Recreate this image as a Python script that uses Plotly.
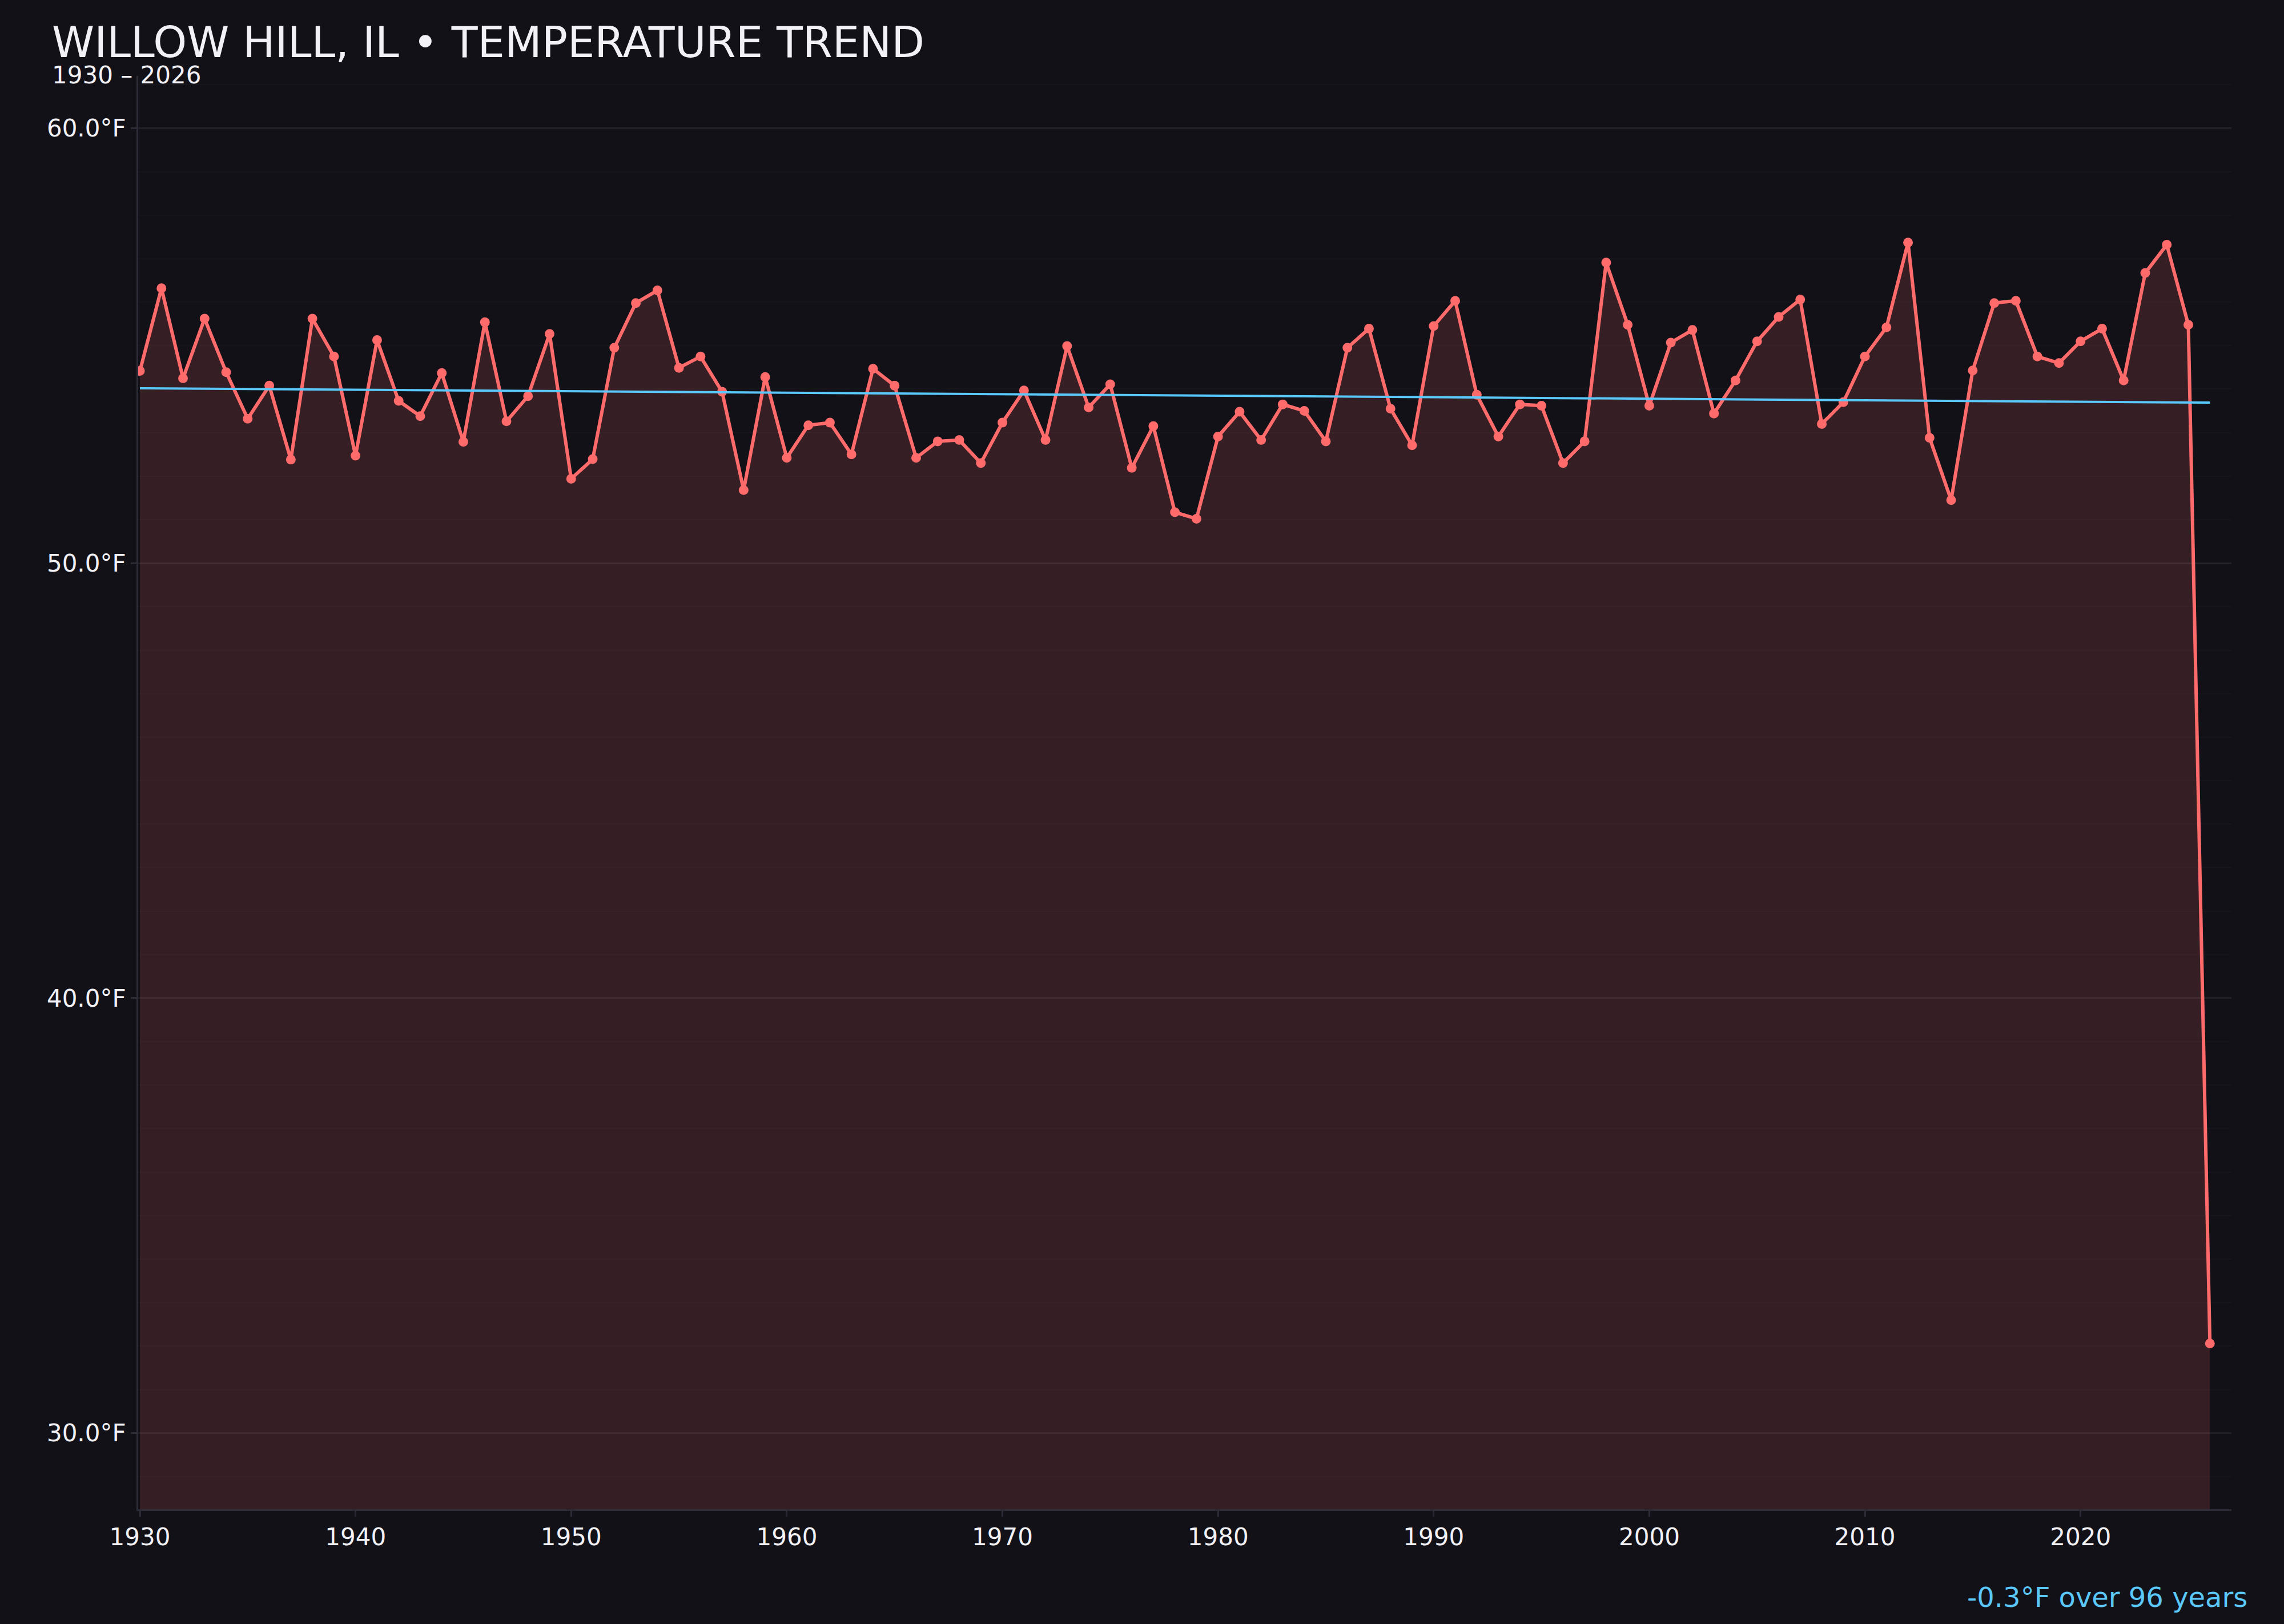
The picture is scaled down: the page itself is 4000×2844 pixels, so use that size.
import plotly.graph_objects as go

years = list(range(1930, 2027))
temps = [
    54.42, 56.32, 54.25, 55.62, 54.39, 53.32, 54.08, 52.38, 55.62, 54.75,  # 1930s
    52.47, 55.13, 53.73, 53.38, 54.37, 52.79, 55.54, 53.26, 53.84, 55.27,  # 1940s
    51.94, 52.39, 54.95, 55.98, 56.27, 54.49, 54.75, 53.94, 51.68, 54.28,  # 1950s
    52.42, 53.17, 53.23, 52.50, 54.47, 54.08, 52.42, 52.80, 52.83, 52.30,  # 1960s
    53.23, 53.97, 52.83, 54.99, 53.58, 54.11, 52.19, 53.15, 51.17, 51.02,  # 1970s
    52.91, 53.48, 52.83, 53.65, 53.50, 52.80, 54.95, 55.39, 53.55, 52.71,  # 1980s
    55.45, 56.03, 53.87, 52.91, 53.65, 53.62, 52.30, 52.80, 56.91, 55.48,  # 1990s
    53.62, 55.07, 55.36, 53.44, 54.20, 55.10, 55.66, 56.06, 53.20, 53.70,  # 2000s
    54.75, 55.42, 57.37, 52.88, 51.45, 54.43, 55.98, 56.03, 54.75, 54.60,  # 2010s
    55.10, 55.39, 54.20, 56.67, 57.32, 55.48, 32.06,                      # 2020s
]
trend_years = [1930, 2026]
trend_vals = [54.02, 53.69]

y_ticks = [30, 40, 50, 60]
y_tick_labels = ["30.0°F", "40.0°F", "50.0°F", "60.0°F"]
x_ticks = list(range(1930, 2030, 10))

title_text = "WILLOW HILL, IL • TEMPERATURE TREND"
subtitle_text = "1930 – 2026"
trend_text = "-0.3°F over 96 years"

BG = "#121118"
LINE = "#ff6b6b"
TREND = "#5ac8fa"
TEXT = "#f2f1f6"
FONT = "DejaVu Sans"

fig = go.Figure()
fig.add_trace(go.Scatter(
    x=years, y=temps, mode="lines+markers",
    line=dict(color=LINE, width=6),
    marker=dict(color=LINE, size=17),
    fill="tozeroy", fillcolor="rgba(255,107,107,0.15)",
    showlegend=False, hoverinfo="skip",
))
fig.add_trace(go.Scatter(
    x=trend_years, y=trend_vals, mode="lines",
    line=dict(color=TREND, width=4),
    showlegend=False, hoverinfo="skip",
))

W, H = 4000, 2844
ml, mr, mt, mb = 242, 92, 133, 201
pw, ph = W - ml - mr, H - mt - mb

def px(xp):
    return (xp - ml) / pw

def py(yp):
    return (H - mb - yp) / ph

fig.update_layout(
    width=W, height=H,
    margin=dict(l=ml, r=mr, t=mt, b=mb, pad=0),
    paper_bgcolor=BG, plot_bgcolor=BG,
    font=dict(family=FONT, color=TEXT, size=42),
    xaxis=dict(
        range=[1929.92, 2027.0],
        tickvals=x_ticks, showgrid=False, zeroline=False,
        showline=True, linecolor="#2c2c36", linewidth=3,
        ticks="outside", ticklen=10, tickwidth=3, tickcolor="#2c2c36",
        tickfont=dict(size=42, color=TEXT, family=FONT),
    ),
    yaxis=dict(
        range=[28.25, 61.2],
        tickvals=y_ticks, ticktext=y_tick_labels,
        showgrid=True, gridcolor="rgba(255,255,255,0.06)", gridwidth=3,
        zeroline=False,
        showline=True, linecolor="#2c2c36", linewidth=3,
        ticks="outside", ticklen=10, tickwidth=3, tickcolor="#2c2c36",
        tickfont=dict(size=42, color=TEXT, family=FONT),
        minor=dict(dtick=1, showgrid=True, gridcolor="rgba(255,255,255,0.02)", gridwidth=2, ticks=""),
    ),
    annotations=[
        dict(text=title_text, xref="paper", yref="paper", x=px(89), y=py(74),
             xanchor="left", yanchor="middle", showarrow=False,
             font=dict(size=75, color=TEXT, family=FONT)),
        dict(text=subtitle_text, xref="paper", yref="paper", x=px(89), y=py(131),
             xanchor="left", yanchor="middle", showarrow=False,
             font=dict(size=42, color=TEXT, family=FONT)),
        dict(text=trend_text, xref="paper", yref="paper", x=px(3938), y=py(2797),
             xanchor="right", yanchor="middle", showarrow=False,
             font=dict(size=48, color=TREND, family=FONT)),
    ],
)

fig.write_html(
    "out.html",
    config={"displayModeBar": False},
    post_script="document.body.style.margin='0';document.body.style.background='#121118';document.documentElement.style.overflow='hidden';",
)
